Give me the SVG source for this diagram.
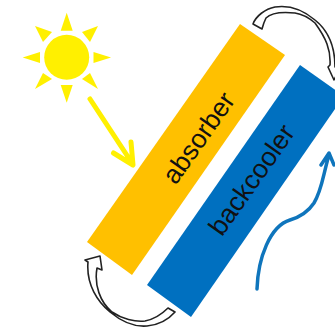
<svg xmlns="http://www.w3.org/2000/svg" width="335" height="327" viewBox="0 0 335 327">
<style>
.lbl{font-family:"Liberation Sans",Arial,sans-serif;font-size:26.5px;fill:#111;text-anchor:middle}
.ray{fill:#fff000}
.heat{fill:#fff;stroke:#222;stroke-width:1.600;stroke-linejoin:round}
.ln{fill:none;stroke-linecap:round;stroke-linejoin:round}
</style>
<rect width="335" height="327" fill="#fff"/>
<g id="sun">
<circle cx="66.700" cy="57.300" r="22.500" class="ray"/>
<polygon class="ray" points="66.700,12.700 60.700,30.700 72.700,30.700"/>
<polygon class="ray" points="66.700,102.700 60.700,85 72.700,85"/>
<polygon class="ray" points="22.700,57.500 40,52 40,63"/>
<polygon class="ray" points="111,57.500 93.500,52 93.500,63"/>
<polygon class="ray" points="35,26 52,32 43,42"/>
<polygon class="ray" points="98,26 82,32 90,42"/>
<polygon class="ray" points="35,89 43,73 52,79"/>
<polygon class="ray" points="98,89 90,73 82,79"/>
</g>
<g id="absorber">
<polygon points="240,24 285,55 132,275 87,242" fill="#ffc000"/>
<text class="lbl" transform="translate(206,143) rotate(-54.800)">absorber</text>
</g>
<g id="backcooler">
<polygon points="300,65 344,96 191,317 147,285" fill="#0070c0"/>
<text class="lbl" transform="translate(259,185) rotate(-54.800)">backcooler</text>
</g>
<g id="connectors">
<path class="ln" d="M90,99 L132,163 M113.500,153 L133,165 L131,142" stroke="#fff000" stroke-width="5"/>
<path class="ln" d="M257,289 C258,258 270,226 290,220 C300,217 308,212 314,203 C322,190 323,175 329,155 M321,165 L329,153 L334,165" stroke="#0f75bc" stroke-width="3.500"/>
<path class="heat" d="M253,24 C256,16 265,9 275,7 C288,5 302,9 315,20 C325,28 335,43 335,67 L340,68 L334,80 L328,67 L330,65 C331,50 326,38 315,23 C308,17 302,14 295,13 C285,12 272,12 266,18 C264,22 263,25 262,29 Z"/>
<path class="heat" d="M175,312 C168,320 158,325 147,326 C135,327 122,322 110,312 C98,302 86,285 88,262 L85,260 L100,256 L102,270 L97,268 C94,285 100,302 112,312 C122,319 135,322 145,321 C155,319 162,314 168,308 Z"/>
</g>
</svg>
